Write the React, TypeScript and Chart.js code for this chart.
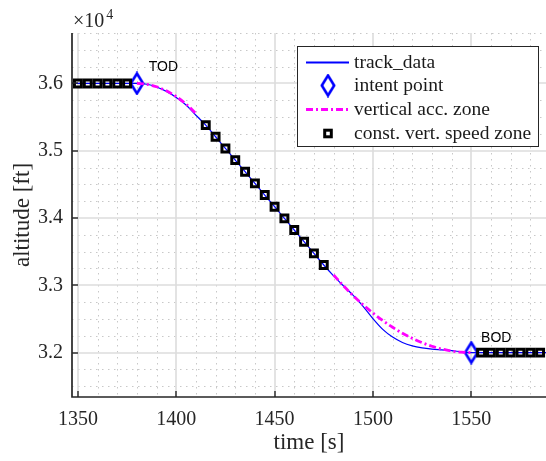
import React, { useEffect, useRef } from 'react';
import { Chart, registerables } from 'chart.js';

Chart.register(...registerables);

// ---- axis ranges / ticks ----
const xMin = 1347;
const xMax = 1588;
const yMin = 31340;
const yMax = 36750;
const xTickValues = [1350, 1400, 1450, 1500, 1550];
const yTickValues = [32000, 33000, 34000, 35000, 36000];
const xMinorStep = 10;
const yMinorStep = 250;

// ---- track_data (blue line) ----
const trackTimes = [
  1347, 1380, 1385, 1390, 1395, 1400, 1405, 1410, 1415, 1420, 1425, 1430, 1435, 1440,
  1445, 1450, 1455, 1460, 1465, 1470, 1475, 1480, 1485, 1490, 1495, 1500, 1505, 1510,
  1515, 1520, 1525, 1530, 1535, 1540, 1545, 1550, 1588,
];
const trackAltitudes = [
  36000, 36000, 35988, 35948, 35882, 35792, 35680, 35528, 35381, 35208, 35034, 34861, 34688, 34515,
  34341, 34168, 33995, 33822, 33648, 33475, 33302, 33140, 32992, 32850, 32688, 32505, 32345, 32230,
  32150, 32100, 32070, 32052, 32040, 32028, 32013, 32000, 32000,
];

// ---- intent points ----
const intentTimes = [1380, 1550];
const intentAltitudes = [36000, 32000];
const intentNames = ['TOD', 'BOD'];
const intentLabelTimes = [1386, 1555];
const intentLabelAltitudes = [36240, 32220];

// ---- vertical acc. zone (two segments) ----
const accTimes1 = [1380, 1385, 1390, 1395, 1400, 1405, 1410];
const accAltitudes1 = [36000, 35988, 35951, 35890, 35804, 35694, 35555];
const accTimes2 = [1480, 1485, 1490, 1495, 1500, 1505, 1510, 1515, 1520, 1525, 1530, 1535, 1540, 1545, 1550];
const accAltitudes2 = [33153, 32993, 32846, 32711, 32588, 32476, 32376, 32288, 32212, 32147, 32094, 32053, 32024, 32006, 32000];

// ---- const. vert. speed zone (squares) ----
const constTimes = [
  1350, 1355, 1360, 1365, 1370, 1375,
  1415, 1420, 1425, 1430, 1435, 1440, 1445, 1450, 1455, 1460, 1465, 1470, 1475,
  1555, 1560, 1565, 1570, 1575, 1580, 1585,
];
const constAltitudes = [
  36000, 36000, 36000, 36000, 36000, 36000,
  35381, 35208, 35034, 34861, 34688, 34515, 34341, 34168, 33995, 33822, 33648, 33475, 33302,
  32000, 32000, 32000, 32000, 32000, 32000, 32000,
];

const legendLabels = ['track_data', 'intent point', 'vertical acc. zone', 'const. vert. speed zone'];

const BLUE = 'rgb(0,0,255)';
const MAGENTA = 'rgb(255,0,255)';
const AXIS = '#262626';
const SERIF = '"Liberation Serif", "Times New Roman", serif';
const SANS = '"Liberation Sans", Arial, sans-serif';
const ACC_DASH = [7, 3, 2, 3];

const toXY = (xs: number[], ys: number[]) => xs.map((x, i) => ({ x, y: ys[i] }));

function makeDiamond(): HTMLCanvasElement {
  const c = document.createElement('canvas');
  c.width = 16;
  c.height = 24;
  const g = c.getContext('2d')!;
  g.strokeStyle = BLUE;
  g.lineWidth = 2.6;
  g.lineJoin = 'miter';
  g.beginPath();
  g.moveTo(8, 2);
  g.lineTo(14.2, 12);
  g.lineTo(8, 22);
  g.lineTo(1.8, 12);
  g.closePath();
  g.stroke();
  return c;
}

const minorValues = (lo: number, hi: number, step: number, majors: number[]) => {
  const out: number[] = [];
  for (let v = Math.ceil(lo / step) * step; v <= hi; v += step) if (!majors.includes(v)) out.push(v);
  return out;
};

const matlabPlugin = {
  id: 'matlabLook',
  beforeDatasetsDraw(chart: any) {
    const { ctx, chartArea: a, scales } = chart;
    const xs = scales.x;
    const ys = scales.y;
    const xMajors = [1300, 1350, 1400, 1450, 1500, 1550, 1600];
    const yMajors = [31000, 32000, 33000, 34000, 35000, 36000, 37000];
    ctx.save();
    // minor grid
    ctx.strokeStyle = '#c8c8c8';
    ctx.lineWidth = 1;
    ctx.setLineDash([1.5, 4.5]);
    minorValues(xMin, xMax, xMinorStep, xMajors).forEach((v) => {
      const p = Math.round(xs.getPixelForValue(v)) + 0.5;
      ctx.beginPath(); ctx.moveTo(p, a.top); ctx.lineTo(p, a.bottom); ctx.stroke();
    });
    minorValues(yMin, yMax, yMinorStep, yMajors).forEach((v) => {
      const p = Math.round(ys.getPixelForValue(v)) + 0.5;
      ctx.beginPath(); ctx.moveTo(a.left, p); ctx.lineTo(a.right, p); ctx.stroke();
    });
    // major grid
    ctx.setLineDash([]);
    ctx.strokeStyle = '#dcdcdc';
    ctx.lineWidth = 1.6;
    xTickValues.forEach((v) => {
      const p = Math.round(xs.getPixelForValue(v));
      ctx.beginPath(); ctx.moveTo(p, a.top); ctx.lineTo(p, a.bottom); ctx.stroke();
    });
    yTickValues.forEach((v) => {
      const p = Math.round(ys.getPixelForValue(v));
      ctx.beginPath(); ctx.moveTo(a.left, p); ctx.lineTo(a.right, p); ctx.stroke();
    });
    ctx.restore();
  },
  afterDatasetsDraw(chart: any) {
    const { ctx, chartArea: a, scales } = chart;
    const xs = scales.x;
    const ys = scales.y;
    ctx.save();
    // axis lines
    ctx.strokeStyle = AXIS;
    ctx.lineWidth = 1.7;
    ctx.beginPath();
    ctx.moveTo(a.left, a.top);
    ctx.lineTo(a.left, a.bottom);
    ctx.lineTo(a.right, a.bottom);
    ctx.stroke();
    // inward tick marks
    ctx.lineWidth = 1.4;
    xTickValues.forEach((v) => {
      const p = Math.round(xs.getPixelForValue(v));
      ctx.beginPath(); ctx.moveTo(p, a.bottom); ctx.lineTo(p, a.bottom - 6); ctx.stroke();
    });
    yTickValues.forEach((v) => {
      const p = Math.round(ys.getPixelForValue(v));
      ctx.beginPath(); ctx.moveTo(a.left, p); ctx.lineTo(a.left + 6, p); ctx.stroke();
    });
    // TOD / BOD labels
    ctx.fillStyle = '#000';
    ctx.font = `14px ${SANS}`;
    ctx.textAlign = 'left';
    ctx.textBaseline = 'middle';
    intentNames.forEach((n, i) => {
      ctx.fillText(n, xs.getPixelForValue(intentLabelTimes[i]), ys.getPixelForValue(intentLabelAltitudes[i]));
    });
    // exponent
    ctx.fillStyle = AXIS;
    ctx.textBaseline = 'alphabetic';
    ctx.font = `20px ${SERIF}`;
    ctx.fillText('\u00d710', a.left + 1, 27);
    const w = ctx.measureText('\u00d710').width;
    ctx.font = `14px ${SERIF}`;
    ctx.fillText('4', a.left + 1 + w + 2, 19);

    // legend
    const bx = 297, by = 46, bw = 241, bh = 100;
    ctx.fillStyle = '#fff';
    ctx.fillRect(bx, by, bw, bh);
    ctx.strokeStyle = AXIS;
    ctx.lineWidth = 1;
    ctx.strokeRect(bx + 0.5, by + 0.5, bw, bh);
    const rows = [62.5, 85.5, 109.5, 133.5];
    const lx1 = 306, lx2 = 349, mx = 328, tx = 354;
    ctx.strokeStyle = BLUE; ctx.lineWidth = 1.8;
    ctx.beginPath(); ctx.moveTo(lx1, rows[0]); ctx.lineTo(lx2, rows[0]); ctx.stroke();
    const d = chart.$diamond as HTMLCanvasElement;
    if (d) ctx.drawImage(d, mx - d.width / 2, rows[1] - d.height / 2);
    ctx.strokeStyle = MAGENTA; ctx.lineWidth = 2.8; ctx.setLineDash(ACC_DASH);
    ctx.beginPath(); ctx.moveTo(lx1, rows[2]); ctx.lineTo(lx2, rows[2]); ctx.stroke();
    ctx.setLineDash([]);
    ctx.strokeStyle = '#000'; ctx.lineWidth = 3;
    ctx.strokeRect(mx - 3.3, rows[3] - 3.3, 6.6, 6.6);
    ctx.fillStyle = '#1a1a1a';
    ctx.font = `19.5px ${SERIF}`;
    ctx.textBaseline = 'middle';
    legendLabels.forEach((t, i) => ctx.fillText(t, tx, rows[i]));
    ctx.restore();
  },
};

export default function App() {
  const ref = useRef<HTMLCanvasElement | null>(null);
  useEffect(() => {
    if (!ref.current) return;
    const diamond = makeDiamond();
    const chart = new Chart(ref.current, {
      type: 'line',
      data: {
        datasets: [
          {
            label: legendLabels[0],
            data: toXY(trackTimes, trackAltitudes),
            borderColor: BLUE,
            borderWidth: 1.2,
            pointRadius: 0,
            cubicInterpolationMode: 'monotone',
            order: 4,
          },
          {
            label: legendLabels[1],
            data: toXY(intentTimes, intentAltitudes),
            showLine: false,
            pointStyle: diamond,
            pointRadius: 8,
            order: 3,
          },
          {
            label: legendLabels[2],
            data: toXY(accTimes1, accAltitudes1),
            borderColor: MAGENTA,
            borderWidth: 2.8,
            borderDash: ACC_DASH,
            pointRadius: 0,
            cubicInterpolationMode: 'monotone',
            order: 2,
          },
          {
            label: legendLabels[2],
            data: toXY(accTimes2, accAltitudes2),
            borderColor: MAGENTA,
            borderWidth: 2.8,
            borderDash: ACC_DASH,
            pointRadius: 0,
            cubicInterpolationMode: 'monotone',
            order: 2,
          },
          {
            label: legendLabels[3],
            data: toXY(constTimes, constAltitudes),
            showLine: false,
            pointStyle: 'rect',
            pointRadius: 4.9,
            pointBorderWidth: 3,
            pointBorderColor: '#000',
            pointBackgroundColor: 'rgba(0,0,0,0)',
            order: 1,
          },
        ],
      } as any,
      options: {
        animation: false,
        responsive: false,
        devicePixelRatio: 1,
        layout: { autoPadding: false, padding: { top: 33, right: 0, bottom: 0, left: 0 } },
        plugins: { legend: { display: false }, tooltip: { enabled: false } },
        scales: {
          x: {
            type: 'linear',
            min: xMin,
            max: xMax,
            grid: { display: false, drawTicks: false },
            border: { display: false },
            afterBuildTicks: (s: any) => { s.ticks = xTickValues.map((value) => ({ value })); },
            ticks: {
              autoSkip: false,
              maxRotation: 0,
              padding: 11,
              color: AXIS,
              font: { family: SERIF, size: 20 },
              callback: (v: any) => String(v),
            },
            title: {
              display: true,
              text: 'time [s]',
              color: AXIS,
              font: { family: SERIF, size: 23 },
              padding: { top: 0, bottom: 4 },
            },
            afterFit: (s: any) => { s.height = 64; },
          },
          y: {
            type: 'linear',
            min: yMin,
            max: yMax,
            grid: { display: false, drawTicks: false },
            border: { display: false },
            afterBuildTicks: (s: any) => { s.ticks = yTickValues.map((value) => ({ value })); },
            ticks: {
              autoSkip: false,
              padding: 9,
              color: AXIS,
              font: { family: SERIF, size: 20 },
              callback: (v: any) => (Number(v) / 10000).toFixed(1),
            },
            title: {
              display: true,
              text: 'altitude [ft]',
              color: AXIS,
              font: { family: SERIF, size: 23 },
              padding: { top: 9, bottom: 0 },
            },
            afterFit: (s: any) => { s.width = 72; },
          },
        },
      } as any,
      plugins: [matlabPlugin],
    });
    (chart as any).$diamond = diamond;
    chart.draw();
    return () => chart.destroy();
  }, []);
  return (
    <div style={{ position: 'absolute', left: 0, top: 0, width: 546, height: 461 }}>
      <canvas ref={ref} width={546} height={461} style={{ width: 546, height: 461 }} />
    </div>
  );
}
